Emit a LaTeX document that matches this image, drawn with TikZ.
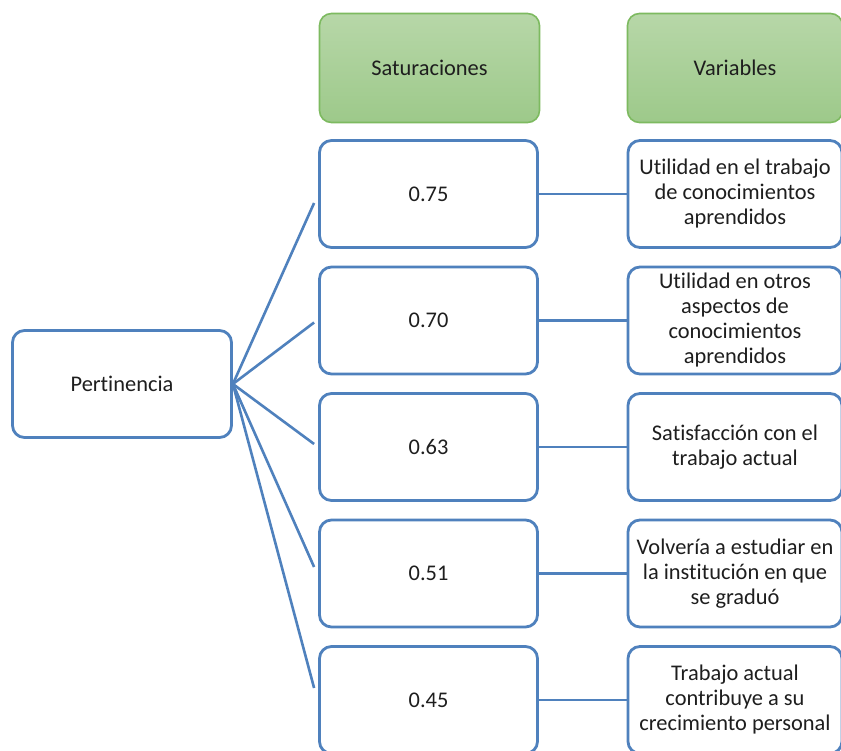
\documentclass[tikz,border=0pt]{standalone}
\usepackage{fontspec}
\setmainfont{Carlito}[Ligatures=NoCommon]
\usetikzlibrary{calc}
\definecolor{boxblue}{RGB}{79,129,189}
\definecolor{hdrtop}{RGB}{183,215,168}
\definecolor{hdrbot}{RGB}{157,201,138}
\definecolor{hdredge}{RGB}{125,186,96}
\definecolor{txt}{RGB}{30,30,30}
\tikzset{
  base/.style={rounded corners=12pt, align=center, text=txt,
    font=\fontsize{22.4}{25}\selectfont, inner sep=0pt},
  itembox/.style={base, draw=boxblue, line width=2.8pt, fill=white,
    minimum width=218pt, minimum height=107pt},
  hdrbox/.style={base, draw=hdredge, line width=1.6pt,
    top color=hdrtop, bottom color=hdrbot,
    minimum width=220pt, minimum height=109pt},
  link/.style={draw=boxblue, line width=2.6pt}
}
\begin{document}
\begin{tikzpicture}[x=1pt,y=-1pt]
\useasboundingbox[fill=white] (0,0) rectangle (841,751);

% column headers
\node[hdrbox] (hs) at (429.5,68) {Saturaciones};
\node[hdrbox, minimum width=215pt] (hv) at (735,68) {Variables};

% root
\node[itembox, minimum width=219pt] (root) at (122,384) {Pertinencia};

% loadings column
\node[itembox] (s1) at (428.5,194) {0.75};
\node[itembox] (s2) at (428.5,320.5) {0.70};
\node[itembox] (s3) at (428.5,447) {0.63};
\node[itembox] (s4) at (428.5,573.5) {0.51};
\node[itembox] (s5) at (428.5,700) {0.45};

% variables column
\node[itembox, minimum width=214pt] (v1) at (735,194)
  {Utilidad en el trabajo\\de conocimientos\\aprendidos};
\node[itembox, minimum width=214pt] (v2) at (735,320.5)
  {Utilidad en otros\\aspectos de\\conocimientos\\aprendidos};
\node[itembox, minimum width=214pt] (v3) at (735,447)
  {Satisfacción con el\\trabajo actual};
\node[itembox, minimum width=214pt] (v4) at (735,573.5)
  {Volvería a estudiar en\\la institución en que\\se graduó};
\node[itembox, minimum width=214pt] (v5) at (735,700)
  {Trabajo actual\\contribuye a su\\crecimiento personal};

% fan-out end points, just short of each loading box
\coordinate (e1) at ($(s1.west)+(-4,9)$);
\coordinate (e2) at ($(s2.west)+(-4,2)$);
\coordinate (e3) at ($(s3.west)+(-4,-3)$);
\coordinate (e4) at ($(s4.west)+(-4,-6.5)$);
\coordinate (e5) at ($(s5.west)+(-4,-12)$);

\foreach \i in {1,...,5}{
  \draw[link] (root.east) -- (e\i);
  \draw[link] (s\i.east) -- (v\i.west);
}
\end{tikzpicture}
\end{document}
